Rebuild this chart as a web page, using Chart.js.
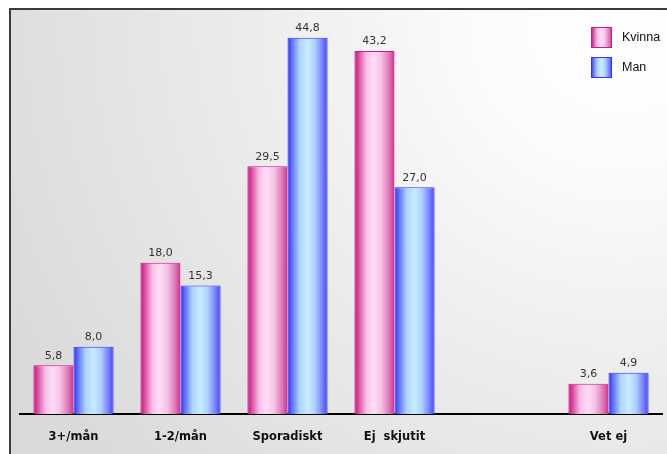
<!DOCTYPE html>
<html>
<head>
<meta charset="utf-8">
<script src="https://cdn.jsdelivr.net/npm/chart.js@4/dist/chart.umd.min.js"></script>
<style>
html,body{margin:0;padding:0;background:#fff;}
#wrap{width:667px;height:454px;position:relative;}
</style>
</head>
<body>
<div id="wrap"><canvas id="c" width="667" height="454"></canvas></div>
<script>
const categories = ['3+/mån', '1-2/mån', 'Sporadiskt', 'Ej  skjutit', '', 'Vet ej'];
const kvinna = [5.8, 18.0, 29.5, 43.2, null, 3.6];
const man = [8.0, 15.3, 44.8, 27.0, null, 4.9];
const seriesNames = ['Kvinna', 'Man'];

const palettes = [
  { border: '#cc1a88', stops: [[0,'#c80a7e'],[0.1,'#d8489c'],[0.3,'#f8c0e8'],[0.48,'#ffdcf6'],[0.66,'#f6c4e6'],[0.86,'#e07ab8'],[1,'#d0308e']] },
  { border: '#3232f8', stops: [[0,'#2828ff'],[0.1,'#5a6cff'],[0.3,'#acd4ff'],[0.5,'#c8ecff'],[0.68,'#b0d0ff'],[0.86,'#7a86ff'],[1,'#4040ff']] }
];

function makeGrad(ctx, x0, x1, pal) {
  const g = ctx.createLinearGradient(x0, 0, x1, 0);
  pal.stops.forEach(s => g.addColorStop(s[0], s[1]));
  return g;
}

const bgPlugin = {
  id: 'bg',
  beforeDraw(chart) {
    const ctx = chart.ctx;
    ctx.save();
    ctx.fillStyle = '#ffffff';
    ctx.fillRect(0, 0, chart.width, chart.height);
    const g = ctx.createRadialGradient(620, 20, 0, 620, 20, 680);
    g.addColorStop(0, '#ffffff');
    g.addColorStop(0.2, '#fcfcfc');
    g.addColorStop(0.55, '#ececec');
    g.addColorStop(1, '#dadada');
    ctx.fillStyle = g;
    ctx.fillRect(10, 9, chart.width - 10, chart.height - 9);
    ctx.strokeStyle = '#3c3c3c';
    ctx.lineWidth = 2;
    ctx.beginPath();
    ctx.moveTo(10, chart.height);
    ctx.lineTo(10, 9);
    ctx.lineTo(chart.width, 9);
    ctx.stroke();
    ctx.restore();
  }
};

const gradPlugin = {
  id: 'grad',
  beforeDatasetsDraw(chart) {
    const ctx = chart.ctx;
    chart.data.datasets.forEach((ds, i) => {
      const meta = chart.getDatasetMeta(i);
      meta.data.forEach(el => {
        if (el.skip) return;
        const w = el.width;
        el.options.backgroundColor = makeGrad(ctx, el.x - w / 2, el.x + w / 2, palettes[i]);
      });
    });
  },
  afterDatasetsDraw(chart) {
    const ctx = chart.ctx;
    ctx.save();
    ctx.font = '11px "DejaVu Sans", Verdana, sans-serif';
    ctx.fillStyle = '#333333';
    ctx.textAlign = 'center';
    ctx.textBaseline = 'bottom';
    chart.data.datasets.forEach((ds, i) => {
      const meta = chart.getDatasetMeta(i);
      meta.data.forEach((el, j) => {
        const v = ds.data[j];
        if (v === null || v === undefined) return;
        ctx.fillText(v.toFixed(1).replace('.', ','), el.x, el.y - 4);
      });
    });
    // legend
    const lx = 591, ly = [27, 57];
    ctx.font = '12.5px "Liberation Sans", Arial, sans-serif';
    ctx.textAlign = 'left';
    ctx.textBaseline = 'middle';
    seriesNames.forEach((name, i) => {
      const y = ly[i];
      ctx.fillStyle = makeGrad(ctx, lx, lx + 21, palettes[i]);
      ctx.fillRect(lx, y, 21, 21);
      ctx.strokeStyle = palettes[i].border;
      ctx.lineWidth = 1;
      ctx.strokeRect(lx + 0.5, y + 0.5, 20, 20);
      ctx.fillStyle = '#111111';
      ctx.fillText(name, 622, y + 11);
    });
    ctx.restore();
  }
};

// scriptable placeholder so each bar element gets its own options object
const perBar = (c) => c.dataset.label === 'Kvinna' ? '#f0a0d0' : '#a0c0ff';

new Chart(document.getElementById('c'), {
  type: 'bar',
  data: {
    labels: categories,
    datasets: [
      { label: seriesNames[0], data: kvinna, borderColor: palettes[0].border, borderWidth: {top:1,left:1,right:0,bottom:0}, backgroundColor: perBar },
      { label: seriesNames[1], data: man, borderColor: palettes[1].border, borderWidth: {top:1,left:1,right:1,bottom:0}, backgroundColor: perBar }
    ]
  },
  options: {
    responsive: false,
    animation: false,
    devicePixelRatio: 1,
    layout: { padding: { left: 20, right: 5, top: 36, bottom: 0 } },
    datasets: { bar: { categoryPercentage: 0.75, barPercentage: 1.0 } },
    plugins: { legend: { display: false }, tooltip: { enabled: false } },
    scales: {
      x: {
        grid: { display: false, drawTicks: false },
        border: { display: true, color: '#000000', width: 2 },
        ticks: { color: '#111111', padding: 16, font: { family: '"DejaVu Sans", Verdana, sans-serif', size: 11.5, weight: 'bold' } },
        afterFit(scale) { scale.height = 40; }
      },
      y: { display: false, min: 0, max: 45 }
    }
  },
  plugins: [bgPlugin, gradPlugin]
});
</script>
</body>
</html>
